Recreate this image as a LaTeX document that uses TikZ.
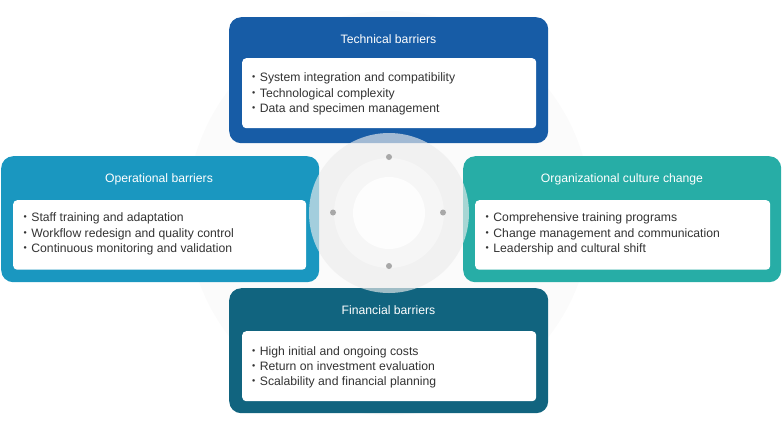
\documentclass[tikz,border=0pt]{standalone}
\usepackage{fontspec}
\setmainfont{Liberation Sans}
\newfontfamily\cjk{Noto Sans CJK JP}
\definecolor{techblue}{HTML}{175CA6}
\definecolor{opblue}{HTML}{1A97C0}
\definecolor{orgteal}{HTML}{27ADA6}
\definecolor{finblue}{HTML}{11647F}
\definecolor{textgray}{HTML}{333333}
\definecolor{dotgray}{HTML}{A8A8A8}
\definecolor{bgcircle}{HTML}{FBFBFB}
\definecolor{ringgray}{HTML}{EDEDED}
\definecolor{midgray}{HTML}{F6F6F6}
\definecolor{coregray}{HTML}{FDFDFD}
\newcommand{\itm}[1]{{\cjk ・}#1}
\begin{document}
\begin{tikzpicture}[x=1pt,y=-1pt,
  outerbox/.style={rectangle, rounded corners=12pt, anchor=north west, inner sep=0pt, draw=none},
  innerbox/.style={rectangle, rounded corners=4pt, fill=white, anchor=north west, inner sep=0pt, draw=none},
  titletext/.style={text=white, anchor=base, inner sep=0pt, font=\fontsize{12.2}{15}\selectfont},
  itemtext/.style={text=textgray, anchor=base west, inner sep=0pt, font=\fontsize{12.2}{15}\selectfont},
  hubdot/.style={circle, fill=dotgray, minimum size=6pt, inner sep=0pt, draw=none}]
\useasboundingbox (0,0) rectangle (783,424);
\fill[bgcircle] (389,213) circle (202);

% Technical barriers
\node[outerbox, fill=techblue, minimum width=319pt, minimum height=126pt] (tech) at (229,17) {};
\node[innerbox, minimum width=294pt, minimum height=70pt] (techin) at (242,58) {};
\node[titletext] (techtitle) at (388.5,43.3) {Technical barriers};
\node[itemtext] (tech1) at (247.5,81.7) {\itm{System integration and compatibility}};
\node[itemtext] (tech2) at (247.5,97) {\itm{Technological complexity}};
\node[itemtext] (tech3) at (247.5,112.3) {\itm{Data and specimen management}};

% Operational barriers
\node[outerbox, fill=opblue, minimum width=318pt, minimum height=126pt] (op) at (1,156) {};
\node[innerbox, minimum width=293pt, minimum height=69.5pt] (opin) at (13,200) {};
\node[titletext] (optitle) at (159,182.3) {Operational barriers};
\node[itemtext] (op1) at (19,221.7) {\itm{Staff training and adaptation}};
\node[itemtext] (op2) at (19,237) {\itm{Workflow redesign and quality control}};
\node[itemtext] (op3) at (19,252) {\itm{Continuous monitoring and validation}};

% Organizational culture change
\node[outerbox, fill=orgteal, minimum width=318pt, minimum height=126pt] (org) at (463,156) {};
\node[innerbox, minimum width=295pt, minimum height=69.5pt] (orgin) at (475,200) {};
\node[titletext] (orgtitle) at (622,182.3) {Organizational culture change};
\node[itemtext] (org1) at (481,221.7) {\itm{Comprehensive training programs}};
\node[itemtext] (org2) at (481,237) {\itm{Change management and communication}};
\node[itemtext] (org3) at (481,252) {\itm{Leadership and cultural shift}};

% Financial barriers
\node[outerbox, fill=finblue, minimum width=319pt, minimum height=125pt] (fin) at (229,288) {};
\node[innerbox, minimum width=294pt, minimum height=70pt] (finin) at (242,331) {};
\node[titletext] (fintitle) at (388.5,314) {Financial barriers};
\node[itemtext] (fin1) at (247.5,355.7) {\itm{High initial and ongoing costs}};
\node[itemtext] (fin2) at (247.5,370.7) {\itm{Return on investment evaluation}};
\node[itemtext] (fin3) at (247.5,385.7) {\itm{Scalability and financial planning}};

% central hub
\fill[ringgray, opacity=0.65] (389,213) circle (80);
\fill[midgray] (389,213) circle (55);
\fill[coregray] (389,213) circle (36);
\node[hubdot] (dtop) at (389,157) {};
\node[hubdot] (dleft) at (333,212.5) {};
\node[hubdot] (dright) at (443,212.5) {};
\node[hubdot] (dbottom) at (389,266) {};
\end{tikzpicture}
\end{document}
